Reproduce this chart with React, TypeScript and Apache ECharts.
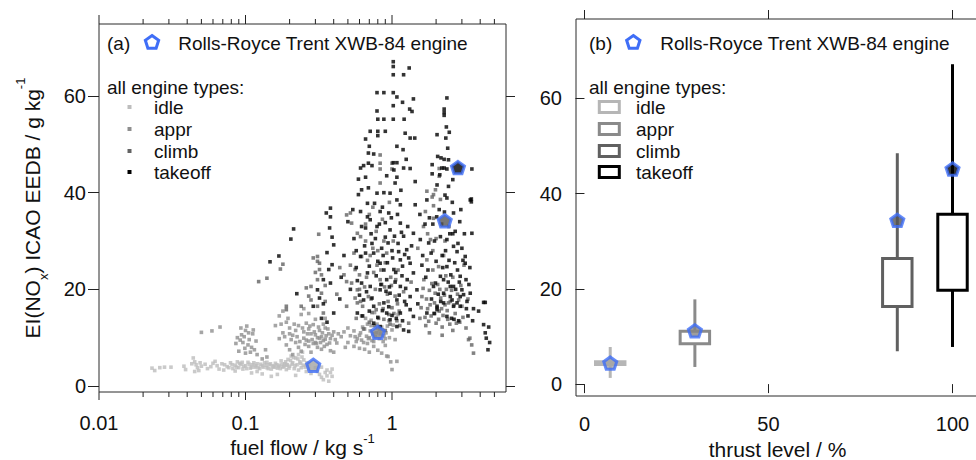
import React, { useEffect, useRef } from 'react';
import * as echarts from 'echarts';

const FONT = "'Liberation Sans', Arial, Helvetica, sans-serif";
const TXT = '#111111';
const AX = '#222222';

// ---------- panel (a): fuel flow [kg/s] vs EI(NOx) [g/kg] ----------
const idlePts: number[][] = [
  [0.023,3.7],[0.024,3.2],[0.026,3.8],[0.028,3.9],[0.031,3.9],[0.038,4.1],[0.039,3.4],[0.044,5.8],[0.045,5.0],
  [0.046,4.4],[0.047,3.8],[0.048,3.2],[0.049,4.8],[0.045,3.0],[0.053,4.5],[0.055,3.6],[0.062,5.1],[0.064,4.2],
  [0.066,3.5],[0.069,4.6],[0.071,3.3],[0.075,4.0],[0.079,4.8],[0.082,3.6],[0.085,4.3],[0.088,5.0],[0.09,3.8],
  [0.093,4.5],[0.096,3.5],[0.1,4.2],[0.104,4.9],[0.108,3.7],[0.112,4.4],[0.116,3.9],[0.12,4.6],[0.125,3.6],
  [0.13,4.2],[0.135,4.8],[0.14,3.8],[0.145,4.4],[0.15,3.5],[0.155,4.0],[0.16,4.7],[0.165,3.7],[0.17,4.3],
  [0.175,5.2],[0.18,3.9],[0.185,4.6],[0.19,3.4],[0.195,5.5],[0.2,4.1],[0.205,6.2],[0.21,4.8],[0.215,3.6],
  [0.22,5.8],[0.225,4.4],[0.23,6.5],[0.235,5.0],[0.24,3.8],[0.245,7.0],[0.25,5.4],[0.13,2.5],[0.15,2.0],
  [0.165,2.4],[0.12,3.0],[0.27,4.6],[0.3,3.8],[0.31,3.0],[0.32,2.4],[0.33,1.8],[0.34,1.3],[0.36,2.1],
  [0.37,1.0],[0.38,2.8],[0.39,3.5],[0.33,3.9],[0.26,3.0],[0.28,2.6],[0.22,2.2],[0.11,2.7],[0.085,3.1],
  [0.095,4.9],[0.14,4.9],[0.19,4.3],[0.23,3.3],[0.26,4.2],
  [0.081,4.4],[0.087,3.9],[0.091,4.7],[0.097,4.1],[0.102,3.6],[0.106,4.5],[0.11,3.9],[0.114,4.8],[0.118,4.2],
  [0.122,3.8],[0.127,4.5],[0.132,3.9],[0.138,4.3],[0.143,3.6],[0.148,4.6],[0.153,4.2],[0.158,3.9],[0.163,4.4],
  [0.168,4.0],[0.173,3.6],[0.178,4.5],[0.183,4.1],[0.188,5.0],[0.193,4.4],[0.198,3.7],[0.203,5.3],[0.208,4.5],
  [0.213,5.9],[0.218,4.2],[0.228,5.6],[0.238,4.7],[0.243,6.0],[0.248,4.3],[0.255,3.9],[0.262,4.8],[0.27,3.6],
  [0.058,4.0],[0.06,4.7],[0.072,4.4],[0.077,3.8],[0.35,2.8],[0.39,2.0],[0.36,3.3],[0.05,4.1],[0.043,4.6]
];
const apprPts: number[][] = [
  [0.05,11.1],[0.059,11.4],[0.067,12.2],
  [0.093,12.0],[0.1,11.5],[0.105,11.0],[0.098,10.2],[0.092,9.5],[0.096,9.0],[0.104,8.5],[0.11,8.0],[0.115,7.5],
  [0.108,7.0],[0.1,6.8],[0.09,7.2],[0.086,8.8],[0.12,6.5],[0.112,10.8],[0.118,9.3],[0.102,12.4],
  [0.094,10.6],[0.099,7.8],[0.106,9.6],[0.113,11.6],[0.088,10.0],
  [0.137,7.5],[0.14,6.0],[0.13,5.6],
  [0.17,14.5],[0.18,15.5],[0.19,13.2],[0.2,12.0],[0.21,10.5],[0.22,9.0],[0.18,11.0],[0.17,9.8],[0.19,8.5],
  [0.2,7.5],[0.23,12.5],[0.24,14.8],[0.25,11.2],[0.26,9.5],[0.27,8.2],[0.28,10.8],[0.29,12.7],[0.3,9.0],
  [0.31,8.0],[0.32,11.5],[0.33,10.2],[0.34,9.4],[0.35,12.0],[0.36,8.6],[0.37,10.8],[0.38,9.8],[0.4,11.2],
  [0.42,8.9],[0.26,13.0],[0.22,11.5],[0.24,7.2],[0.28,7.0],[0.33,7.6],[0.38,7.3],[0.3,13.8],[0.25,16.0],
  [0.27,15.0],[0.23,8.0],[0.35,14.0],[0.21,6.5],[0.16,12.5],[0.31,10.0],[0.27,11.8],[0.34,12.8],[0.29,8.8],
  [0.4,7.0],
  [0.175,12.8],[0.185,10.2],[0.195,14.0],[0.205,9.6],[0.215,12.8],[0.225,10.2],[0.235,9.2],[0.245,12.0],
  [0.255,8.6],[0.265,10.8],[0.275,12.4],[0.285,9.6],[0.295,11.2],[0.305,8.8],[0.315,12.2],[0.325,9.0],
  [0.335,11.0],[0.345,8.2],[0.355,10.4],[0.365,11.8],[0.375,8.9],[0.39,10.5],[0.41,9.6],[0.43,10.8],
  [0.2,10.8],[0.25,9.9],[0.3,10.6],[0.35,9.7],[0.27,9.3],[0.32,9.9],
  [0.45,10.2],[0.5,9.0],[0.55,8.2],[0.6,10.5],[0.62,9.5],[0.65,11.8],[0.68,8.8],[0.7,10.0],[0.72,12.5],
  [0.75,9.2],[0.78,11.0],[0.82,9.8],[0.85,12.2],[0.88,10.4],[0.9,8.4],[0.95,13.5],[1.0,11.6],[1.05,9.6],
  [0.8,7.4],[0.7,7.0],[0.6,7.8],[0.55,11.4],[0.5,12.0],[0.48,8.0],[0.66,14.0],[0.76,15.2],[0.92,6.2],
  [0.98,5.0],[1.0,3.4],[1.08,5.1],[0.94,6.1],[1.1,14.8],[0.85,6.8],[0.74,10.8],[0.64,9.0],[0.58,9.8],
  [0.82,11.6],[0.68,12.8],
  [0.47,11.2],[0.52,10.4],[0.57,9.2],[0.63,12.2],[0.67,10.3],[0.71,11.4],[0.73,9.4],[0.77,10.2],[0.79,12.8],
  [0.83,10.8],[0.87,9.2],[0.91,11.0],[0.96,10.0],[1.02,12.6],[0.69,9.8],[0.61,11.0],[0.75,8.2],[0.86,11.6],
  [0.93,12.4],[0.65,7.6],[0.56,10.2],[0.72,13.6],[0.8,12.0],[0.9,9.8]
];
const climbPts: number[][] = [
  [0.123,21.6],[0.14,22.3],[0.173,24.2],[0.18,25.2],[0.19,16.5],[0.19,15.8],[0.24,16.5],[0.26,20.3],[0.28,17.8],
  [0.28,20.6],[0.29,26.5],[0.31,25.8],[0.32,24.1],[0.31,22.0],[0.33,19.2],[0.31,16.5],[0.34,15.1],[0.31,26.8],
  [0.32,25.4],[0.33,23.0],[0.316,31.4],[0.47,23.0],[0.49,21.6],[0.56,24.1],[0.53,21.3],[0.58,19.9],[0.61,17.5],
  [0.49,35.4],[0.53,33.7],[0.58,31.6],[0.52,35.8],[0.61,30.9],[0.49,16.5],[0.58,17.2],[0.83,22.0],[0.83,47.8],
  [0.83,46.1],[0.83,44.9],[0.83,42.0],[1.0,46.1],[1.0,44.9],[2.1,45.0],[2.1,43.4],[1.69,36.1],[1.92,39.6],
  [1.98,40.6],[1.64,33.0],[1.83,30.3],[1.73,26.1],[2.08,24.7],[1.73,40.3],[1.88,39.1],[2.14,38.6],[1.92,37.3],
  [1.92,34.7],
  [0.62,14.5],[0.65,20.5],[0.68,26.0],[0.7,13.2],[0.72,18.0],[0.75,23.5],[0.78,15.8],[0.8,28.0],[0.82,17.0],
  [0.85,21.0],[0.88,13.8],[0.9,25.5],[0.93,19.0],[0.95,14.8],[0.98,22.5],[1.0,16.2],[1.02,30.0],[1.05,18.6],
  [1.08,13.5],[1.1,24.0],[0.66,33.5],[0.74,37.0],[0.86,34.5],[0.96,38.0],[0.55,27.5],[0.6,23.0],[0.57,14.0],
  [0.64,11.8],[0.76,12.5],[0.9,11.5],[1.12,15.5],[1.2,19.5],[1.3,13.0],[1.35,21.5],
  [0.63,16.5],[0.67,22.5],[0.69,18.5],[0.71,27.0],[0.73,15.2],[0.77,20.0],[0.79,25.0],[0.81,14.0],[0.84,24.0],
  [0.87,16.0],[0.89,20.5],[0.92,27.5],[0.94,17.5],[0.97,12.8],[0.99,20.8],[1.03,15.0],[1.06,22.0],[1.09,17.0],
  [1.13,12.5],[0.6,20.0],[0.56,18.2],[0.52,25.0],[0.66,30.0],[0.78,32.0],[0.88,30.0],[0.7,35.5],[0.62,26.8],
  [0.74,28.5],[0.35,20.8],[0.3,23.5],[0.27,18.6],[0.35,17.5],[0.42,19.0],[0.44,24.5],
  [1.55,14.0],[1.6,18.5],[1.65,22.0],[1.7,12.5],[1.75,16.0],[1.8,19.8],[1.85,14.5],[1.9,24.0],[1.95,17.2],
  [2.0,13.0],[2.05,21.0],[2.1,15.5],[2.15,18.2],[2.2,12.2],[2.25,27.0],[2.3,16.8],[2.35,20.0],[2.4,13.8],
  [2.5,17.5],[2.6,22.5],[2.7,15.0],[2.8,19.0],[2.9,13.2],[3.0,16.5],[3.1,25.0],[3.2,12.0],[3.3,18.0],
  [2.2,10.5],[1.8,11.0],[2.6,11.5],[1.5,28.5],[2.0,30.5],[2.45,33.0],
  [1.58,16.2],[1.63,20.2],[1.68,14.2],[1.72,18.0],[1.78,13.4],[1.82,16.8],[1.87,21.2],[1.93,15.0],[1.97,19.2],
  [2.03,16.2],[2.08,13.8],[2.12,20.0],[2.18,16.0],[2.23,14.6],[2.28,18.8],[2.33,22.8],[2.38,15.6],[2.43,17.2],
  [2.48,12.8],[2.55,19.8],[2.65,16.8],[2.75,13.0],[2.85,17.8],[2.95,20.8],[3.05,14.2],[1.9,28.0],[2.3,30.0],
  [1.75,31.5],
  [3.33,9.6],[3.4,9.9],[3.6,6.8],[3.5,8.5]
];
const takeoffPts: number[][] = [
  [0.147,25.7],[0.169,26.9],[0.204,30.4],[0.213,32.5],[0.224,19.1],
  [0.29,16.5],[0.31,19.9],[0.32,18.2],[0.34,17.0],[0.34,22.0],[0.37,24.1],[0.38,21.3],[0.39,25.1],[0.36,27.6],
  [0.40,29.2],[0.39,30.8],[0.375,32.7],[0.356,35.8],[0.38,35.0],[0.38,36.8],[0.40,15.1],[0.33,14.0],[0.36,13.2],
  [1.02,67.1],[1.02,66.1],[1.02,64.4],[1.2,64.4],[1.31,65.8],[0.79,60.7],[0.88,60.7],[1.02,60.7],[1.08,59.8],
  [1.18,58.7],[1.4,59.4],[1.02,58.0],[0.79,56.9],[0.88,55.2],[0.80,55.2],[1.02,55.2],[1.21,55.2],[1.32,57.3],
  [1.37,56.8],[0.71,52.7],[0.80,52.7],[0.80,51.8],[0.90,52.7],[1.23,52.3],[1.33,51.3],[1.43,51.3],[0.66,51.1],
  [0.70,49.6],[0.69,48.2],[1.08,49.6],[1.19,48.9],[1.25,46.9],[1.02,46.2],[1.08,46.2],[0.69,46.1],[0.61,45.1],
  [0.64,45.6],[0.73,45.6],[1.03,44.7],[1.2,45.1],[1.33,45.0],[0.66,43.2],[0.59,42.8],[1.08,43.2],[1.44,42.3],
  [2.37,59.6],[2.27,57.3],[2.27,56.6],[2.27,56.0],[2.35,53.6],[2.46,52.5],[2.33,51.3],[2.03,52.0],[2.4,49.2],
  [2.05,47.5],[2.16,47.2],[2.27,46.9],[2.43,46.8],[1.88,45.8],[2.19,45.1],[2.27,45.1],[2.37,44.9],[3.51,44.9],
  [1.88,43.9],[2.12,43.7],[2.6,42.7],[3.48,38.7],[3.48,38.1],
  [0.59,39.6],[0.62,40.6],[0.69,41.0],[0.68,37.8],[0.79,39.9],[0.88,40.0],[0.97,39.9],[1.05,42.0],[1.08,38.5],
  [1.14,37.5],[0.61,36.1],[0.71,34.4],[0.83,36.1],[0.95,35.8],[0.66,32.7],[0.79,33.0],[0.97,32.3],[1.14,33.7],
  [1.44,37.5],[1.73,38.5],[2.03,41.6],[2.37,38.9],[2.43,41.3],[3.42,38.5],[2.63,35.8],[2.7,32.0],[3.51,31.6],
  [1.40,31.6],[1.56,30.3],[1.78,29.6],[2.14,30.9],[2.37,30.3],[2.63,28.9],[2.78,27.8],[3.16,26.8],[3.16,25.4],
  [2.92,22.7],[3.0,19.9],[2.92,18.5],[4.22,17.3],[2.37,24.7],[2.14,22.7],[1.92,20.6],[2.25,19.2],[2.5,20.6],
  [2.57,17.8],[2.03,16.5],[2.63,16.5],[1.73,15.1],[1.26,28.2],[1.33,25.4],[1.40,23.4],[1.14,26.1],[1.03,24.1],
  [0.92,22.0],[0.83,25.4],[0.75,27.5],[0.68,23.4],[0.61,26.8],[0.62,21.3],[0.71,20.6],[0.83,19.9],[0.97,19.2],
  [1.08,17.8],[0.88,17.2],[0.75,16.5],[0.64,17.8],[1.14,20.6],[1.27,22.0],[1.33,18.5],[1.48,19.9],[0.58,15.1],
  [0.92,15.1],
  [1.40,14.4],[1.33,15.8],[1.14,15.1],[0.97,13.7],[0.83,12.3],[0.75,13.0],[1.2,11.6],[1.3,11.3],[1.08,12.3],
  [2.5,18.5],[2.78,17.2],[2.92,16.5],[2.25,17.2],[2.03,15.8],[2.37,14.4],[3.42,19.2],[3.25,17.5],[4.33,17.3],
  [4.22,12.7],[4.57,12.2],[4.33,11.0],[4.4,9.9],[4.64,9.0],[4.52,7.5],[2.25,22.0],[1.98,21.3],[2.63,20.6],
  [3.08,18.9],
  [0.55,30.5],[0.65,29.0],[0.72,31.5],[0.85,28.5],[0.9,30.8],[1.0,28.0],[1.1,29.5],[1.2,31.0],[0.57,24.5],
  [0.78,22.8],[0.88,24.0],[1.05,21.5],[1.18,24.8],[0.52,20.0],[0.6,18.8],[0.7,15.5],[0.8,14.2],[0.95,16.4],
  [1.25,16.8],[1.5,17.0],[1.6,25.0],[1.7,22.5],[1.85,27.5],[2.0,25.8],[2.2,27.0],[2.45,26.0],[2.8,24.0],
  [3.0,28.5],[2.6,31.5],[2.9,34.0],[1.9,33.5],[1.55,35.5],[2.1,36.5],[2.3,39.5],[0.5,34.0],[0.47,27.0],
  [0.45,22.5],[0.44,18.0],[1.15,40.5],[0.92,43.5],[0.75,48.0],[2.55,14.0],[2.85,13.5],[3.3,14.5],[3.6,16.0],
  [3.2,22.0],[3.4,24.5],
  [0.62,33.0],[0.66,27.5],[0.68,35.0],[0.7,24.8],[0.73,29.5],[0.76,37.8],[0.77,30.5],[0.8,25.8],[0.82,33.5],
  [0.84,21.0],[0.86,37.0],[0.87,27.0],[0.9,33.8],[0.93,25.5],[0.94,29.6],[0.96,20.5],[0.99,34.8],[1.01,26.5],
  [1.04,31.0],[1.06,23.5],[1.09,35.5],[1.11,27.8],[1.12,18.8],[1.16,31.8],[1.17,22.8],[1.22,27.2],[1.24,20.2],
  [1.28,33.0],[1.3,26.5],[1.36,29.0],[0.57,28.0],[0.54,36.5],[0.58,21.8],[0.63,14.5],[0.67,19.5],[0.73,18.2],
  [0.86,15.6],[0.91,19.6],[1.0,14.6],[1.07,14.0],[1.18,13.5],[1.22,17.5],
  [1.62,27.0],[1.68,33.5],[1.76,24.0],[1.8,34.8],[1.86,18.0],[1.95,30.0],[2.02,35.0],[2.07,19.0],[2.18,33.5],
  [2.22,24.5],[2.28,36.0],[2.32,28.0],[2.42,21.5],[2.48,31.5],[2.52,23.0],[2.58,38.0],[2.68,25.5],[2.72,20.0],
  [2.82,29.5],[2.88,21.5],[2.95,36.5],[3.05,26.0],[3.12,31.5],[3.22,16.0],[3.35,21.0],[2.15,17.5],[1.95,15.0],
  [2.65,13.8],[3.55,13.5],[3.9,15.5]
];
// Rolls-Royce Trent XWB-84, per mode: fuel flow and EI(NOx)
const xwbFuelFlow = [0.29, 0.80, 2.29, 2.82];
const xwbEINOx = [4.3, 11.1, 34.2, 45.2];

// ---------- panel (b): thrust level [%] boxes ----------
const thrustLevels = [7, 30, 85, 100];
const whiskerLow = [1.3, 3.6, 6.9, 7.8];
const boxQ1 = [4.1, 8.5, 16.3, 19.7];
const boxQ3 = [4.7, 11.1, 26.4, 35.7];
const whiskerHigh = [7.8, 17.8, 48.5, 67.2];
const xwbEINOxB = [4.4, 11.2, 34.4, 45.2];

const modeNames = ['idle', 'appr', 'climb', 'takeoff'];
const modeColors = ['#bdbdbd', '#8e8e8e', '#636363', '#000000'];
const boxColors = ['#b6b6b6', '#8a8a8a', '#606060', '#000000'];
const pentFill = ['#a4a4a4', '#858585', '#555555', '#000000'];
const BLUE = '#3f6ef7';

// ticks
const logMajorTicks = [0.01, 0.1, 1];
const logMinorTicks = [0.02, 0.03, 0.04, 0.05, 0.06, 0.07, 0.08, 0.09, 0.2, 0.3, 0.4, 0.5, 0.6, 0.7, 0.8, 0.9, 2, 3, 4, 5];
const yTicks = [0, 20, 40, 60];
const thrustTicks = [0, 50, 100];

const YA_MIN = -1.24, YA_MAX = 74.9;
const YB_MIN = -2.5, YB_MAX = 76.7;

const PENT = 'path://M0,-1 L0.951,-0.309 L0.588,0.809 L-0.588,0.809 L-0.951,-0.309 Z';

function pentagonPoints(cx: number, cy: number, r: number) {
  const pts: number[][] = [];
  for (let k = 0; k < 5; k++) {
    const a = -Math.PI / 2 + (k * 2 * Math.PI) / 5;
    pts.push([cx + r * Math.cos(a), cy + r * Math.sin(a)]);
  }
  return pts;
}

function legendGraphics(ox: number, label: string, boxes: boolean) {
  const els: any[] = [];
  const t = (x: number, y: number, text: string) => ({
    type: 'text', x, y, silent: true,
    style: { text, fill: TXT, fontSize: 19, fontFamily: FONT, verticalAlign: 'middle', align: 'left' },
  });
  els.push(t(ox, 43, label));
  els.push({
    type: 'polygon', silent: true,
    shape: { points: pentagonPoints(ox + (boxes ? 44.3 : 45), 42.5, 7) },
    style: { fill: '#ffffff', stroke: BLUE, lineWidth: 3 },
  });
  els.push(t(ox + 71.3, 43, 'Rolls-Royce Trent XWB-84 engine'));
  els.push(t(ox, 87, 'all engine types:'));
  const ys = [107, 129, 151, 172];
  modeNames.forEach((m, i) => {
    if (boxes) {
      els.push({
        type: 'rect', silent: true,
        shape: { x: ox + 10.3, y: ys[i] - 5.5, width: 20, height: 11 },
        style: { fill: 'none', stroke: boxColors[i], lineWidth: 3 },
      });
    } else {
      els.push({
        type: 'rect', silent: true,
        shape: { x: ox + 20.5, y: ys[i] - 2, width: 4, height: 4 },
        style: { fill: modeColors[i] },
      });
    }
    els.push(t(ox + 47, ys[i], m));
  });
  return els;
}

export default function App() {
  const ref = useRef<HTMLDivElement>(null);
  useEffect(() => {
    if (!ref.current) return;
    const chart = echarts.init(ref.current, undefined, { renderer: 'svg' });
    const label = { color: TXT, fontSize: 20, fontFamily: FONT };
    const tickStyle = { color: AX, width: 1 };

    const scatterSeries = [idlePts, apprPts, climbPts, takeoffPts].map((pts, i) => ({
      type: 'scatter', name: modeNames[i], xAxisIndex: 0, yAxisIndex: 0,
      symbol: 'rect', symbolSize: 3.6, data: pts, silent: true,
      itemStyle: { color: modeColors[i] }, z: 2 + i * 0.01,
    }));

    const option: any = {
      animation: false,
      textStyle: { fontFamily: FONT },
      grid: [
        { left: 99, top: 24, width: 407, height: 368, show: true, borderColor: '#2a2a2a', borderWidth: 1, backgroundColor: 'transparent', outerBoundsMode: 'none', containLabel: false },
        { left: 576, top: 19, width: 410, height: 377, show: true, borderColor: '#2a2a2a', borderWidth: 1, backgroundColor: 'transparent', outerBoundsMode: 'none', containLabel: false },
      ],
      xAxis: [
        {
          type: 'log', gridIndex: 0, position: 'bottom', logBase: 10, min: 0.01, max: 6,
          axisLine: { show: false }, axisTick: { show: false }, splitLine: { show: false },
          minorTick: { show: false }, minorSplitLine: { show: false },
          axisLabel: {
            ...label, margin: 21, hideOverlap: false,
            formatter: (v: number) => {
              const m = logMajorTicks.find((t) => Math.abs(Math.log10(v) - Math.log10(t)) < 1e-6);
              return m === undefined ? '' : String(m);
            },
          },
          name: '{n|fuel flow / kg s}{sup|-1}', nameLocation: 'middle', nameGap: 40, nameMoveOverlap: false,
          nameTextStyle: {
            rich: {
              n: { fontSize: 21, lineHeight: 30, fontFamily: FONT, color: TXT },
              sup: { fontSize: 13, lineHeight: 8, verticalAlign: 'top', fontFamily: FONT, color: TXT },
            },
          },
        },
        {
          type: 'value', gridIndex: 1, position: 'bottom', min: -2.3, max: 109.1,
          axisLine: { show: false }, splitLine: { show: false },
          axisTick: { show: true, length: 9, customValues: thrustTicks, lineStyle: tickStyle },
          axisLabel: { ...label, margin: 18, customValues: thrustTicks },
          name: 'thrust level / %', nameLocation: 'middle', nameGap: 43, nameMoveOverlap: false,
          nameTextStyle: { fontSize: 21, lineHeight: 20, fontFamily: FONT, color: TXT, padding: [0, 7, 0, 0] },
        },
        {
          type: 'value', gridIndex: 1, position: 'top', min: -2.3, max: 109.1,
          axisLine: { show: false }, splitLine: { show: false },
          axisTick: { show: true, length: 9, customValues: thrustTicks, lineStyle: tickStyle },
          axisLabel: { show: false },
        },
      ],
      yAxis: [
        {
          type: 'value', gridIndex: 0, position: 'left', min: YA_MIN, max: YA_MAX,
          axisLine: { show: false }, splitLine: { show: false },
          axisTick: { show: true, length: 11, customValues: yTicks, lineStyle: tickStyle },
          axisLabel: { ...label, margin: 13, customValues: yTicks },
          name: '{n|EI(NO}{sub|x}{n|) ICAO EEDB / g kg}{sup|-1}',
          nameLocation: 'middle', nameGap: 49, nameRotate: 90, nameMoveOverlap: false,
          nameTextStyle: {
            rich: {
              n: { fontSize: 21, lineHeight: 36, fontFamily: FONT, color: TXT },
              sub: { fontSize: 13, lineHeight: 18, verticalAlign: 'bottom', fontFamily: FONT, color: TXT },
              sup: { fontSize: 13, lineHeight: 16, verticalAlign: 'top', fontFamily: FONT, color: TXT },
            },
          },
        },
        {
          type: 'value', gridIndex: 0, position: 'right', min: YA_MIN, max: YA_MAX,
          axisLine: { show: false }, splitLine: { show: false },
          axisTick: { show: true, length: 9, customValues: yTicks, lineStyle: tickStyle },
          axisLabel: { show: false },
        },
        {
          type: 'value', gridIndex: 1, position: 'left', min: YB_MIN, max: YB_MAX,
          axisLine: { show: false }, splitLine: { show: false },
          axisTick: { show: true, length: 9, customValues: yTicks, lineStyle: tickStyle },
          axisLabel: { ...label, margin: 14, customValues: yTicks },
        },
      ],
      series: [
        ...scatterSeries,
        {
          type: 'scatter', xAxisIndex: 0, yAxisIndex: 0, silent: true, z: 5,
          symbol: PENT, symbolSize: 13, symbolKeepAspect: true,
          data: xwbFuelFlow.map((f, i) => ({ value: [f, xwbEINOx[i]], itemStyle: { color: pentFill[i] } })),
          itemStyle: { borderColor: BLUE, borderWidth: 3 },
        },
        {
          // log-axis tick marks (major + minor), bottom and top
          type: 'custom', xAxisIndex: 0, yAxisIndex: 0, silent: true, z: 6,
          data: [...logMajorTicks.map((v) => [v, 1]), ...logMinorTicks.map((v) => [v, 0])],
          encode: { x: 0, y: 1 },
          renderItem: (_p: any, api: any) => {
            const v = api.value(0);
            const major = api.value(1) === 1;
            const b = api.coord([v, YA_MIN]);
            const t = api.coord([v, YA_MAX]);
            const st = { stroke: AX, lineWidth: 1 };
            return {
              type: 'group',
              children: [
                { type: 'line', shape: { x1: b[0], y1: b[1], x2: b[0], y2: b[1] + (major ? 8 : 5) }, style: st },
                { type: 'line', shape: { x1: t[0], y1: t[1], x2: t[0], y2: t[1] - (major ? 9 : 5) }, style: st },
              ],
            };
          },
        },
        {
          type: 'custom', xAxisIndex: 1, yAxisIndex: 2, silent: true, z: 4,
          data: thrustLevels.map((t, i) => [t, whiskerLow[i], boxQ1[i], boxQ3[i], whiskerHigh[i], i]),
          encode: { x: 0, y: [1, 2, 3, 4] },
          renderItem: (_p: any, api: any) => {
            const x = api.value(0);
            const lo = api.coord([x, api.value(1)]);
            const q1 = api.coord([x, api.value(2)]);
            const q3 = api.coord([x, api.value(3)]);
            const hi = api.coord([x, api.value(4)]);
            const w = api.size([8, 0])[0];
            const c = boxColors[api.value(5)];
            const st = { stroke: c, lineWidth: 3 };
            return {
              type: 'group',
              children: [
                { type: 'line', shape: { x1: lo[0], y1: lo[1], x2: q1[0], y2: q1[1] }, style: st },
                { type: 'line', shape: { x1: q3[0], y1: q3[1], x2: hi[0], y2: hi[1] }, style: st },
                { type: 'rect', shape: { x: q3[0] - w / 2, y: q3[1], width: w, height: q1[1] - q3[1] }, style: { stroke: c, lineWidth: 3, fill: '#ffffff' } },
              ],
            };
          },
        },
        {
          type: 'scatter', xAxisIndex: 1, yAxisIndex: 2, silent: true, z: 5,
          symbol: PENT, symbolSize: 13, symbolKeepAspect: true,
          data: thrustLevels.map((t, i) => ({ value: [t, xwbEINOxB[i]], itemStyle: { color: pentFill[i] } })),
          itemStyle: { borderColor: BLUE, borderWidth: 3 },
        },
      ],
      graphic: [...legendGraphics(107, '(a)', false), ...legendGraphics(589, '(b)', true)],
    };
    chart.setOption(option);
    return () => chart.dispose();
  }, []);
  return (
    <div
      ref={ref}
      style={{ position: 'absolute', left: 0, top: 0, width: 976, height: 460, background: '#ffffff' }}
    />
  );
}
